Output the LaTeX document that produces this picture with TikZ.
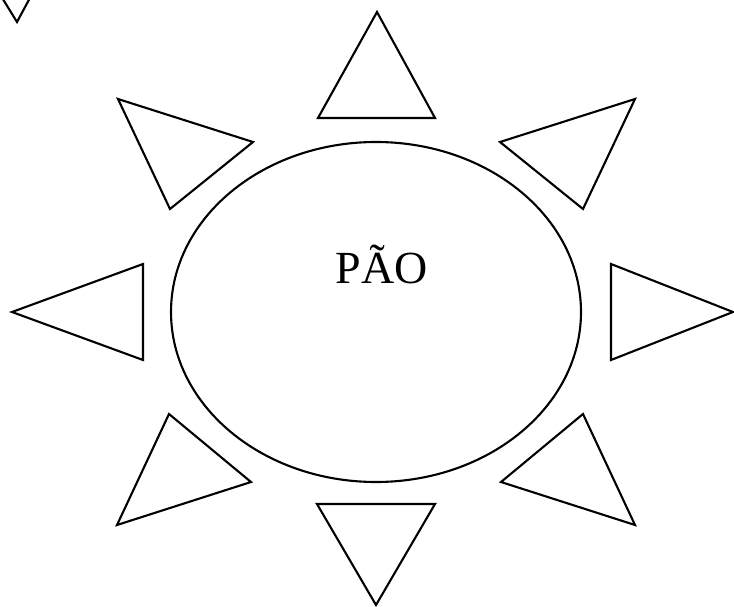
\documentclass[tikz,border=0pt]{standalone}
\usepackage{fontspec}
\setmainfont{Liberation Serif}
\begin{document}
\begin{tikzpicture}[x=1pt,y=-1pt,
  ray/.style={draw=black,line width=2.1pt,line join=miter},
  body/.style={draw=black,line width=2.1pt}]
\useasboundingbox (0,0) rectangle (734,607);
\begin{scope}
\clip (0,0) rectangle (734,607);
% small partial triangle at top-left corner
\draw[ray] (1,-4) -- (17,22) -- (31,-4);
% sun body
\draw[body] (376,312) ellipse [x radius=205, y radius=170];
\node[font=\fontsize{46}{50}\selectfont,inner sep=0pt] (label) at (382,264) {PÃO};
% rays
\draw[ray] (377,12) -- (435,118) -- (318,118) -- cycle;
\draw[ray] (376,605) -- (435,504) -- (317,504) -- cycle;
\draw[ray] (12,312) -- (143,264) -- (143,360) -- cycle;
\draw[ray] (733,312) -- (611,264) -- (611,360) -- cycle;
\draw[ray] (118,99) -- (253,142) -- (170,209) -- cycle;
\draw[ray] (635,99) -- (500,142) -- (583,209) -- cycle;
\draw[ray] (117,525) -- (251,482) -- (169,414) -- cycle;
\draw[ray] (635,525) -- (501,482) -- (583,414) -- cycle;
\end{scope}
\end{tikzpicture}
\end{document}
